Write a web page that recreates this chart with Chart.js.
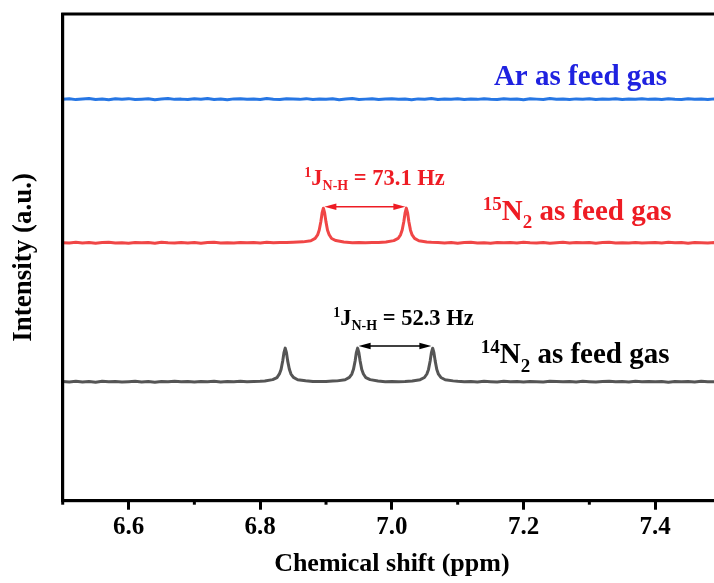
<!DOCTYPE html>
<html><head><meta charset="utf-8">
<script src="https://cdn.jsdelivr.net/npm/chart.js@4/dist/chart.umd.min.js"></script>
<style>
html,body{margin:0;padding:0;background:#fff;overflow:hidden}
#wrap{width:714px;height:583px;overflow:hidden;position:relative;background:#fff}
canvas{display:block}
</style>
</head><body>
<div id="wrap"><canvas id="c" width="724" height="583"></canvas></div>
<script>
// ---------- data ----------
const xTickLabels = ['6.6', '6.8', '7.0', '7.2', '7.4'];

const arShift = [6.50,6.51,6.52,6.53,6.54,6.55,6.56,6.57,6.58,6.59,
6.60,6.61,6.62,6.63,6.64,6.65,6.66,6.67,6.68,6.69,
6.70,6.71,6.72,6.73,6.74,6.75,6.76,6.77,6.78,6.79,
6.80,6.81,6.82,6.83,6.84,6.85,6.86,6.87,6.88,6.89,
6.90,6.91,6.92,6.93,6.94,6.95,6.96,6.97,6.98,6.99,
7.00,7.01,7.02,7.03,7.04,7.05,7.06,7.07,7.08,7.09,
7.10,7.11,7.12,7.13,7.14,7.15,7.16,7.17,7.18,7.19,
7.20,7.21,7.22,7.23,7.24,7.25,7.26,7.27,7.28,7.29,
7.30,7.31,7.32,7.33,7.34,7.35,7.36,7.37,7.38,7.39,
7.40,7.41,7.42,7.43,7.44,7.45,7.46,7.47,7.48,7.49,
7.50];
const arIntensity = [82.48,82.60,82.41,82.55,82.63,82.44,82.52,82.39,82.58,82.47,
82.61,82.43,82.50,82.57,82.40,82.53,82.64,82.46,82.51,82.42,
82.59,82.49,82.62,82.45,82.54,82.38,82.56,82.60,82.47,82.52,
82.44,82.63,82.50,82.41,82.58,82.53,82.46,82.61,82.43,82.55,
82.49,82.57,82.40,82.52,82.62,82.45,82.51,82.58,82.42,82.54,
82.60,82.47,82.53,82.39,82.56,82.50,82.63,82.44,82.52,82.48,
82.59,82.41,82.55,82.46,82.61,82.50,82.43,82.57,82.49,82.53,
82.40,82.58,82.51,82.45,82.62,82.47,82.54,82.42,82.56,82.50,
82.60,82.44,82.52,82.48,82.57,82.41,82.55,82.49,82.61,82.46,
82.53,82.43,82.58,82.50,82.45,82.59,82.47,82.52,82.42,82.56,
82.50];

const n15Shift = [6.50,6.51,6.52,6.53,6.54,6.55,6.56,6.57,6.58,6.59,
6.60,6.61,6.62,6.63,6.64,6.65,6.66,6.67,6.68,6.69,
6.70,6.71,6.72,6.73,6.74,6.75,6.76,6.77,6.78,6.79,
6.80,6.81,6.82,6.83,6.84,6.85,
6.865,6.877,6.8835,6.8872,6.8897,6.8922,6.8941,6.896,6.8979,6.8998,6.9023,6.9048,6.9085,6.915,6.927,
6.94,6.95,6.96,6.97,6.98,
6.991,7.003,7.0095,7.0132,7.0157,7.0182,7.0201,7.022,7.0239,7.0258,7.0283,7.0308,7.0345,7.041,7.053,
7.06,7.07,7.08,7.09,7.10,7.11,7.12,7.13,7.14,7.15,
7.16,7.17,7.18,7.19,7.20,7.21,7.22,7.23,7.24,7.25,
7.26,7.27,7.28,7.29,7.30,7.31,7.32,7.33,7.34,7.35,
7.36,7.37,7.38,7.39,7.40,7.41,7.42,7.43,7.44,7.45,
7.46,7.47,7.48,7.49,7.50];
const n15Intensity = [53.02,52.93,53.08,52.97,53.05,52.90,53.03,53.10,52.95,53.01,
52.92,53.07,52.98,53.04,52.91,53.09,53.00,52.94,53.06,52.97,
53.03,52.89,53.05,53.11,52.96,53.02,52.93,53.07,52.99,53.04,
52.95,53.08,53.01,53.06,53.03,53.10,
53.18,53.41,53.90,54.60,55.62,57.35,59.16,60.10,59.12,57.39,55.58,54.64,53.87,53.45,53.15,
53.02,53.06,52.99,53.05,53.04,
53.16,53.44,53.88,54.63,55.61,57.37,59.13,60.12,59.15,57.36,55.59,54.61,53.91,53.42,53.17,
53.10,53.04,52.97,53.06,52.92,53.03,53.08,52.95,53.01,52.90,
53.07,52.98,53.04,52.93,53.09,53.00,52.96,53.05,52.91,53.02,
53.08,52.94,53.03,52.99,53.06,52.92,53.04,53.10,52.97,53.01,
52.95,53.07,52.93,53.02,53.05,52.96,53.09,52.98,53.03,52.91,
53.06,53.00,52.94,53.04,52.99];

const n14Shift = [6.50,6.51,6.52,6.53,6.54,6.55,6.56,6.57,6.58,6.59,
6.60,6.61,6.62,6.63,6.64,6.65,6.66,6.67,6.68,6.69,
6.70,6.71,6.72,6.73,6.74,6.75,6.76,6.77,6.78,6.79,6.80,
6.807,6.819,6.8255,6.8292,6.8317,6.8342,6.8361,6.838,6.8399,6.8418,6.8443,6.8468,6.8505,6.857,6.869,
6.88,6.89,6.90,6.91,
6.917,6.929,6.9355,6.9392,6.9417,6.9442,6.9461,6.948,6.9499,6.9518,6.9543,6.9568,6.9605,6.967,6.979,
6.99,7.00,7.01,7.02,
7.031,7.043,7.0495,7.0532,7.0557,7.0582,7.0601,7.062,7.0639,7.0658,7.0683,7.0708,7.0745,7.081,7.093,
7.10,7.11,7.12,7.13,7.14,7.15,7.16,7.17,7.18,7.19,
7.20,7.21,7.22,7.23,7.24,7.25,7.26,7.27,7.28,7.29,
7.30,7.31,7.32,7.33,7.34,7.35,7.36,7.37,7.38,7.39,
7.40,7.41,7.42,7.43,7.44,7.45,7.46,7.47,7.48,7.49,7.50];
const n14Intensity = [24.47,24.38,24.52,24.41,24.49,24.36,24.55,24.44,24.50,24.39,
24.46,24.53,24.40,24.48,24.35,24.51,24.43,24.56,24.42,24.47,
24.37,24.50,24.45,24.54,24.40,24.48,24.43,24.52,24.46,24.51,24.55,
24.61,24.88,25.30,26.04,26.97,28.72,30.40,31.35,30.43,28.68,27.00,26.01,25.33,24.85,24.63,
24.47,24.50,24.49,24.58,
24.62,24.86,25.33,26.02,26.99,28.69,30.44,31.36,30.41,28.71,26.96,26.03,25.30,24.88,24.60,
24.46,24.51,24.44,24.49,
24.61,24.87,25.31,26.03,26.98,28.70,30.42,31.33,30.40,28.73,26.97,26.00,25.32,24.86,24.62,
24.53,24.44,24.49,24.39,24.52,24.46,24.41,24.55,24.43,24.48,
24.37,24.51,24.45,24.40,24.54,24.47,24.42,24.50,24.38,24.53,
24.46,24.41,24.49,24.56,24.43,24.48,24.39,24.52,24.45,24.50,
24.42,24.47,24.36,24.51,24.44,24.49,24.40,24.53,24.46,24.43,24.48];

// coupling arrows: [start shift, end shift], height
const n15ArrowShift = [6.8975, 7.0205];
const n15ArrowLevel = 60.4;
const n14ArrowShift = [6.9495, 7.0600];
const n14ArrowLevel = 31.8;

// ---------- drawing ----------
const FONT = "'Liberation Serif','Times New Roman',Times,serif";
const pts = (xs, ys) => xs.map((x, i) => ({x: x, y: ys[i]}));

const labels = [
  {x: 7.155, y: 85.41, color: '#1f22e0', segs: [{t: 'Ar as feed gas', size: 29}]},
  {x: 7.138, y: 57.70, color: '#ee1c24', segs: [{t: '15', size: 19, dy: -10}, {t: 'N', size: 29}, {t: '2', size: 19, dy: 8.4}, {t: ' as feed gas', size: 29}]},
  {x: 7.135, y: 28.23, color: '#000000', segs: [{t: '14', size: 19, dy: -10}, {t: 'N', size: 29}, {t: '2', size: 19, dy: 8.4}, {t: ' as feed gas', size: 29}]},
  {x: 6.867, y: 64.86, color: '#ee1c24', segs: [{t: '1', size: 14, dy: -8.3}, {t: 'J', size: 22.5}, {t: 'N-H', size: 14, dy: 5}, {t: ' = 73.1 Hz', size: 22.5}]},
  {x: 6.911, y: 36.10, color: '#000000', segs: [{t: '1', size: 14, dy: -8.3}, {t: 'J', size: 22.5}, {t: 'N-H', size: 14, dy: 5}, {t: ' = 52.3 Hz', size: 22.5}]}
];
const arrows = [
  {xs: n15ArrowShift, y: n15ArrowLevel, color: '#ee1c24'},
  {xs: n14ArrowShift, y: n14ArrowLevel, color: '#000000'}
];

function drawRich(ctx, x, y, segs, color) {
  ctx.save();
  ctx.fillStyle = color;
  ctx.textBaseline = 'alphabetic';
  ctx.textAlign = 'left';
  let cx = x;
  for (const s of segs) {
    ctx.font = 'bold ' + s.size + 'px ' + FONT;
    ctx.fillText(s.t, cx, y + (s.dy || 0));
    cx += ctx.measureText(s.t).width;
  }
  ctx.restore();
}
function drawArrow(ctx, x1, x2, y, color) {
  const hl = 12, hw = 3.3;
  ctx.save();
  ctx.strokeStyle = color; ctx.fillStyle = color; ctx.lineWidth = 1.5;
  ctx.beginPath(); ctx.moveTo(x1 + hl - 1, y); ctx.lineTo(x2 - hl + 1, y); ctx.stroke();
  ctx.beginPath(); ctx.moveTo(x1, y); ctx.lineTo(x1 + hl, y - hw); ctx.lineTo(x1 + hl, y + hw); ctx.closePath(); ctx.fill();
  ctx.beginPath(); ctx.moveTo(x2, y); ctx.lineTo(x2 - hl, y - hw); ctx.lineTo(x2 - hl, y + hw); ctx.closePath(); ctx.fill();
  ctx.restore();
}

const isMajor = v => { const k = Math.round(v * 10); return k % 2 === 0; };

const decor = {
  id: 'decor',
  afterDatasetsDraw(chart) {
    const ctx = chart.ctx, xs = chart.scales.x, ys = chart.scales.y;
    for (const a of arrows) {
      drawArrow(ctx, xs.getPixelForValue(a.xs[0]), xs.getPixelForValue(a.xs[1]), ys.getPixelForValue(a.y), a.color);
    }
    for (const l of labels) {
      drawRich(ctx, xs.getPixelForValue(l.x), ys.getPixelForValue(l.y), l.segs, l.color);
    }
  },
  afterDraw(chart) {
    const ctx = chart.ctx, a = chart.chartArea, xs = chart.scales.x;
    ctx.save();
    ctx.strokeStyle = '#000';
    ctx.lineWidth = 3;
    ctx.strokeRect(a.left, a.top, a.right - a.left, a.bottom - a.top);
    // minor ticks
    for (const t of xs.ticks) {
      if (isMajor(t.value)) continue;
      const px = xs.getPixelForValue(t.value);
      ctx.beginPath(); ctx.moveTo(px, a.bottom); ctx.lineTo(px, a.bottom + 4); ctx.stroke();
    }
    ctx.restore();
  }
};

const ds = (xs, ys, color) => ({
  data: pts(xs, ys), showLine: true, borderColor: color, borderWidth: 3,
  pointRadius: 0, fill: false, tension: 0, borderJoinStyle: 'round', borderCapStyle: 'round'
});

new Chart(document.getElementById('c'), {
  type: 'scatter',
  data: {
    datasets: [
      ds(arShift, arIntensity, 'rgb(38,118,228)'),
      ds(n15Shift, n15Intensity, 'rgb(240,70,70)'),
      ds(n14Shift, n14Intensity, 'rgb(85,85,85)')
    ]
  },
  options: {
    responsive: false,
    animation: false,
    events: [],
    layout: {padding: {top: 14, left: 0, right: 1.3, bottom: 0}},
    plugins: {legend: {display: false}, tooltip: {enabled: false}, title: {display: false}},
    scales: {
      x: {
        type: 'linear', min: 6.5, max: 7.5,
        afterFit: s => { s.height = 82.3; },
        border: {display: true, color: '#000', width: 3},
        grid: {
          display: true, drawOnChartArea: false, drawTicks: true, tickLength: 9, lineWidth: 3,
          color: c => (c.tick && isMajor(c.tick.value) && c.tick.value > 6.55 && c.tick.value < 7.45) ? '#000' : 'rgba(0,0,0,0)'
        },
        ticks: {
          stepSize: 0.1, autoSkip: false, maxRotation: 0, padding: 3, color: '#000',
          font: {family: FONT, size: 25, weight: 'bold'},
          callback: v => { const s = Number(v).toFixed(1); return xTickLabels.includes(s) ? s : ''; }
        },
        title: {display: true, text: 'Chemical shift (ppm)', color: '#000',
          font: {family: FONT, size: 26, weight: 'bold'}, padding: {top: 0, bottom: 3}}
      },
      y: {
        type: 'linear', min: 0, max: 100,
        afterFit: s => { s.width = 62.7; },
        border: {display: true, color: '#000', width: 3},
        grid: {display: false},
        ticks: {display: false},
        title: {display: true, text: 'Intensity (a.u.)', color: '#000',
          font: {family: FONT, size: 27, weight: 'bold'}, padding: {top: 8, bottom: 0}}
      }
    }
  },
  plugins: [decor]
});
</script>
</body></html>
